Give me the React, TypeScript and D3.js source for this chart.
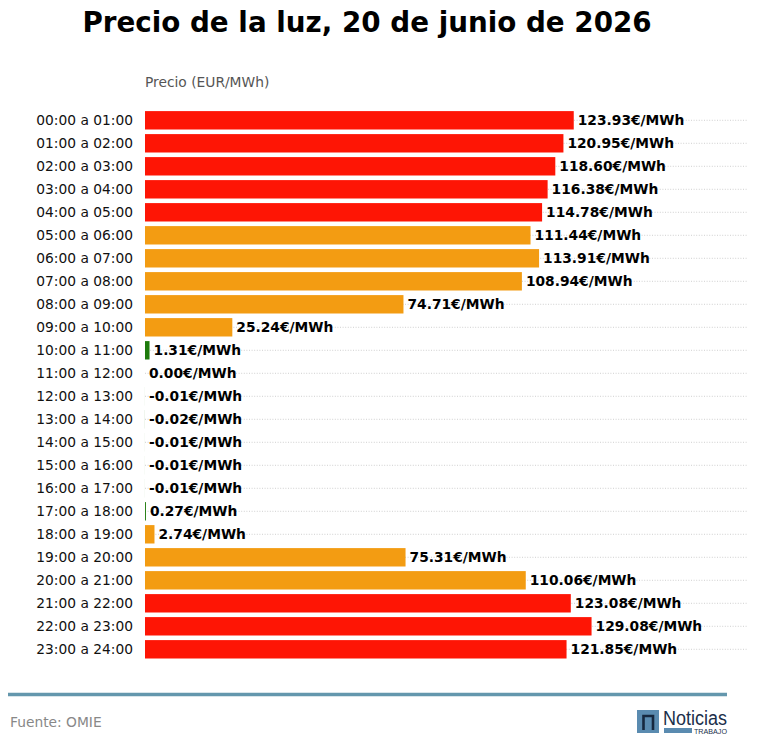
import { useEffect, useRef } from 'react';
import * as d3 from 'd3';

const hours = [
  '00:00 a 01:00', '01:00 a 02:00', '02:00 a 03:00', '03:00 a 04:00', '04:00 a 05:00', '05:00 a 06:00',
  '06:00 a 07:00', '07:00 a 08:00', '08:00 a 09:00', '09:00 a 10:00', '10:00 a 11:00', '11:00 a 12:00',
  '12:00 a 13:00', '13:00 a 14:00', '14:00 a 15:00', '15:00 a 16:00', '16:00 a 17:00', '17:00 a 18:00',
  '18:00 a 19:00', '19:00 a 20:00', '20:00 a 21:00', '21:00 a 22:00', '22:00 a 23:00', '23:00 a 24:00',
];

const prices = [
  123.93, 120.95, 118.6, 116.38, 114.78, 111.44, 113.91, 108.94, 74.71, 25.24, 1.31, 0.0,
  -0.01, -0.02, -0.01, -0.01, -0.01, 0.27, 2.74, 75.31, 110.06, 123.08, 129.08, 121.85,
];

const levels = [
  'alto', 'alto', 'alto', 'alto', 'alto', 'medio', 'medio', 'medio', 'medio', 'medio', 'bajo', 'bajo',
  'bajo', 'bajo', 'bajo', 'bajo', 'bajo', 'bajo', 'medio', 'medio', 'medio', 'alto', 'alto', 'alto',
];

const levelNames = ['alto', 'medio', 'bajo'];
const levelColors = ['#fe1505', '#f39c12', '#1e7b0c'];

const width = 758;
const height = 755;
const font = '"DejaVu Sans", sans-serif';
const fontSize = 13.8;

const App = () => {
  const ref = useRef<SVGSVGElement | null>(null);

  useEffect(() => {
    if (!ref.current) return;

    const svg = d3.select(ref.current);
    svg.selectAll('*').remove();

    const left = 145;
    const right = 748;

    const rows = hours.map((hour, i) => ({ hour, price: prices[i], level: levels[i] }));

    const xScale = d3.scaleLinear().domain([0, 174.3]).range([left, right]);
    const yScale = d3.scaleBand().domain(hours).range([108.8, 660.8]).paddingInner(0.2).paddingOuter(0.1);
    const color = d3.scaleOrdinal<string>().domain(levelNames).range(levelColors);
    const rowMiddle = (hour: string) => (yScale(hour) ?? 0) + yScale.bandwidth() / 2;

    svg
      .append('text')
      .attr('x', 367)
      .attr('y', 32)
      .attr('text-anchor', 'middle')
      .attr('font-family', font)
      .attr('font-size', 27.78)
      .attr('font-weight', 'bold')
      .text('Precio de la luz, 20 de junio de 2026');

    svg
      .append('text')
      .attr('x', left)
      .attr('y', 87)
      .attr('font-family', font)
      .attr('font-size', fontSize)
      .attr('fill', '#555')
      .text('Precio (EUR/MWh)');

    svg
      .append('g')
      .selectAll('line')
      .data(rows)
      .enter()
      .append('line')
      .attr('x1', left)
      .attr('x2', right)
      .attr('y1', (d) => rowMiddle(d.hour))
      .attr('y2', (d) => rowMiddle(d.hour))
      .attr('stroke', '#c4c4c4')
      .attr('stroke-width', 0.8)
      .attr('stroke-dasharray', '1,1.6');

    svg
      .append('g')
      .selectAll('rect')
      .data(rows)
      .enter()
      .append('rect')
      .attr('x', (d) => xScale(Math.min(0, d.price)))
      .attr('y', (d) => yScale(d.hour) ?? 0)
      .attr('width', (d) => Math.abs(xScale(d.price) - xScale(0)))
      .attr('height', yScale.bandwidth())
      .attr('fill', (d) => color(d.level));

    svg
      .append('g')
      .selectAll('text')
      .data(rows)
      .enter()
      .append('text')
      .attr('x', 133)
      .attr('y', (d) => rowMiddle(d.hour))
      .attr('dy', '0.32em')
      .attr('text-anchor', 'end')
      .attr('font-family', font)
      .attr('font-size', fontSize)
      .attr('fill', '#111')
      .text((d) => d.hour);

    svg
      .append('g')
      .selectAll('text')
      .data(rows)
      .enter()
      .append('text')
      .attr('x', (d) => xScale(Math.max(0, d.price)) + 4)
      .attr('y', (d) => rowMiddle(d.hour))
      .attr('dy', '0.32em')
      .attr('font-family', font)
      .attr('font-size', fontSize)
      .attr('font-weight', 'bold')
      .attr('fill', '#000')
      .text((d) => `${d.price.toFixed(2)}€/MWh`);

    // pie
    svg
      .append('line')
      .attr('x1', 8)
      .attr('x2', 727)
      .attr('y1', 694.5)
      .attr('y2', 694.5)
      .attr('stroke', '#6497ad')
      .attr('stroke-width', 3.5);

    svg
      .append('text')
      .attr('x', 10)
      .attr('y', 727)
      .attr('font-family', font)
      .attr('font-size', fontSize)
      .attr('fill', '#888')
      .text('Fuente: OMIE');

    // logo
    const logo = svg.append('g');
    logo.append('rect').attr('x', 637).attr('y', 710).attr('width', 22).attr('height', 23).attr('fill', '#5a8bb0');
    logo
      .append('path')
      .attr('d', 'M643.5 730V716H653V730')
      .attr('fill', 'none')
      .attr('stroke', '#16283f')
      .attr('stroke-width', 2.6);
    logo
      .append('text')
      .attr('x', 663)
      .attr('y', 725)
      .attr('font-family', '"Liberation Sans", sans-serif')
      .attr('font-size', 20)
      .attr('textLength', 64)
      .attr('lengthAdjust', 'spacingAndGlyphs')
      .attr('fill', '#1b2f4a')
      .text('Noticias');
    logo.append('rect').attr('x', 664).attr('y', 728).attr('width', 28).attr('height', 5).attr('fill', '#5a8bb0');
    logo
      .append('text')
      .attr('x', 694)
      .attr('y', 733.5)
      .attr('font-family', '"Liberation Sans", sans-serif')
      .attr('font-size', 6.5)
      .attr('textLength', 33)
      .attr('lengthAdjust', 'spacingAndGlyphs')
      .attr('fill', '#1b2f4a')
      .text('TRABAJO');
  }, []);

  return <svg ref={ref} width={width} height={height} style={{ position: 'absolute', left: 0, top: 0 }} />;
};

export default App;
